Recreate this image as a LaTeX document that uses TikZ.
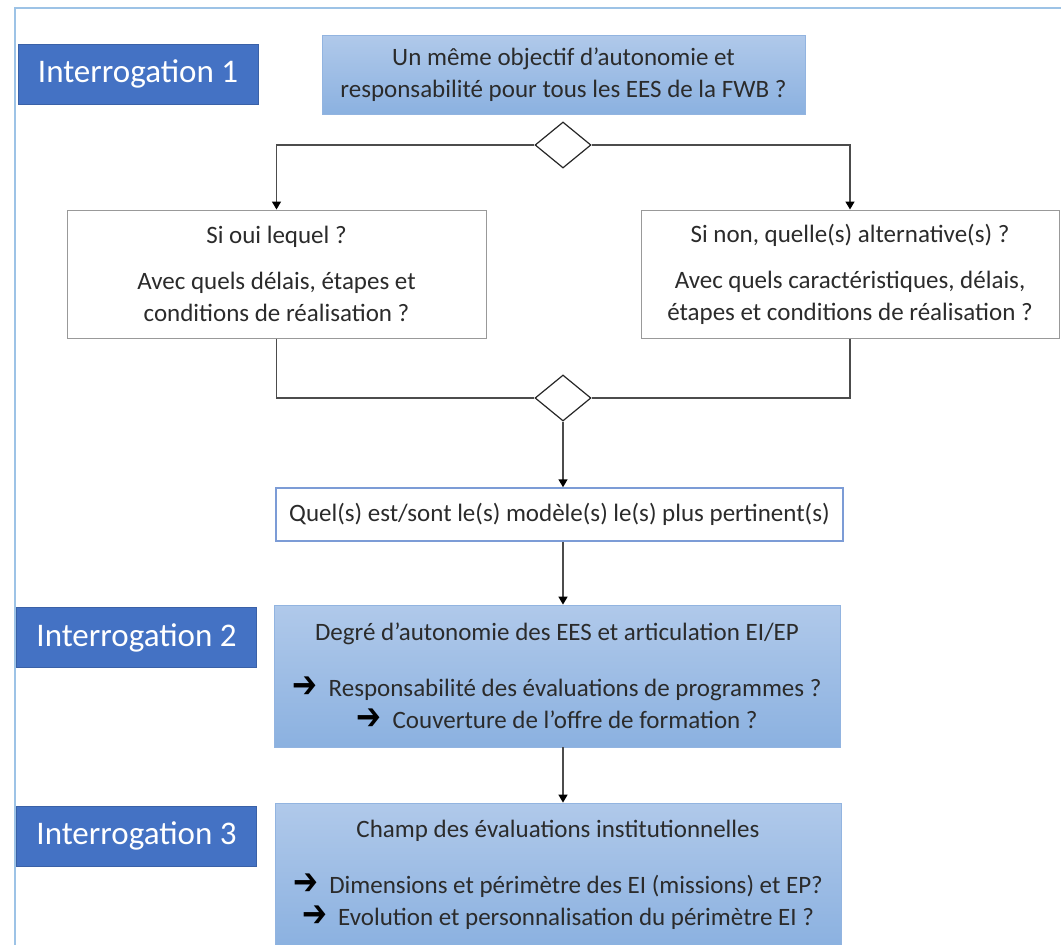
\documentclass[tikz,border=0pt]{standalone}
\usepackage{fontspec}
\setmainfont{Carlito}
\newfontfamily\arrowfont{DejaVu Sans}
\usetikzlibrary{arrows.meta,shapes.geometric}

\definecolor{labelblue}{HTML}{4472C4}
\definecolor{boxtop}{HTML}{B0C9EA}
\definecolor{boxbottom}{HTML}{8BB1E0}
\definecolor{boxline}{HTML}{92B4E0}
\definecolor{framecol}{HTML}{9DC3E6}
\definecolor{textgray}{HTML}{2B2B2B}

\newcommand{\arrowmark}{\raisebox{-1pt}{\scalebox{1.35}[1.7]{\arrowfont\bfseries\fontsize{22}{22}\selectfont\color{black}\char"2794}}}

\begin{document}
\begin{tikzpicture}[x=1pt,y=-1pt,
    interro/.style={rectangle,fill=labelblue,draw=labelblue!85!black,line width=0.8pt,
        text=white,minimum width=240pt,minimum height=60pt,inner sep=0pt,
        font=\fontsize{33}{33}\selectfont},
    bluebox/.style={rectangle,top color=boxtop,bottom color=boxbottom,draw=boxline,
        line width=0.8pt,text=textgray,align=center,inner sep=0pt,
        font=\fontsize{25}{32}\selectfont},
    whitebox/.style={rectangle,fill=white,draw=gray!80,line width=1pt,text=textgray,
        align=center,inner sep=0pt,font=\fontsize{25}{32}\selectfont},
    choice/.style={diamond,draw=black!85,fill=white,line width=1.2pt,inner sep=0pt,
        minimum width=56pt,minimum height=46pt},
    flow/.style={draw=black!70,line width=1.6pt},
    >={Triangle[black,width=9pt,length=8pt]}]
\useasboundingbox (0,0) rectangle (1061,945);
\draw[framecol,line width=1.5pt] (15,946) -- (15,8) -- (1061,8);

% questions labels
\node[interro] (I1) at (138,74) {Interrogation 1};
\node[interro] (I2) at (136.5,637.5) {Interrogation 2};
\node[interro] (I3) at (136.5,836) {Interrogation 3};

% main flow
\node[bluebox,minimum width=483pt,minimum height=79pt] (goal) at (563.5,74.5)
    {Un même objectif d’autonomie et\\responsabilité pour tous les EES de la FWB ?};
\node[choice] (d1) at (563,145) {};
\node[whitebox,minimum width=419pt,minimum height=128pt] (yes) at (276.5,274)
    {Si oui lequel ?\\[14pt]Avec quels délais, étapes et\\conditions de réalisation ?};
\node[whitebox,minimum width=418pt,minimum height=128pt] (no) at (850,274)
    {Si non, quelle(s) alternative(s) ?\\[14pt]Avec quels caractéristiques, délais,\\étapes et conditions de réalisation ?};
\node[choice] (d2) at (563,398) {};
\node[whitebox,draw=labelblue!70,line width=1.5pt,minimum width=567pt,minimum height=53pt] (model) at (559.5,514.5)
    {Quel(s) est/sont le(s) modèle(s) le(s) plus pertinent(s)};
\node[bluebox,minimum width=566pt,minimum height=142pt] (deg) at (557,676)
    {Degré d’autonomie des EES et articulation EI/EP\\[24pt]
     \arrowmark\ \ Responsabilité des évaluations de programmes ?\\
     \arrowmark\ \ Couverture de l’offre de formation ?};
\node[bluebox,minimum width=566pt,minimum height=144pt] (field) at (558,875)
    {Champ des évaluations institutionnelles\\[24pt]
     \arrowmark\ \ Dimensions et périmètre des EI (missions) et EP?\\
     \arrowmark\ \ Evolution et personnalisation du périmètre EI ?};

% connectors
\draw[flow,->] (d1.west) -| (yes.north);
\draw[flow,->] (d1.east) -| (no.north);
\draw[flow] (yes.south) |- (d2.west);
\draw[flow] (no.south) |- (d2.east);
\draw[flow,->] (d2.south) -- (d2.south |- model.north);
\draw[flow,->] (model.south -| d2.south) -- (deg.north -| d2.south);
\draw[flow,->] (deg.south -| d2.south) -- (field.north -| d2.south);
\end{tikzpicture}
\end{document}
